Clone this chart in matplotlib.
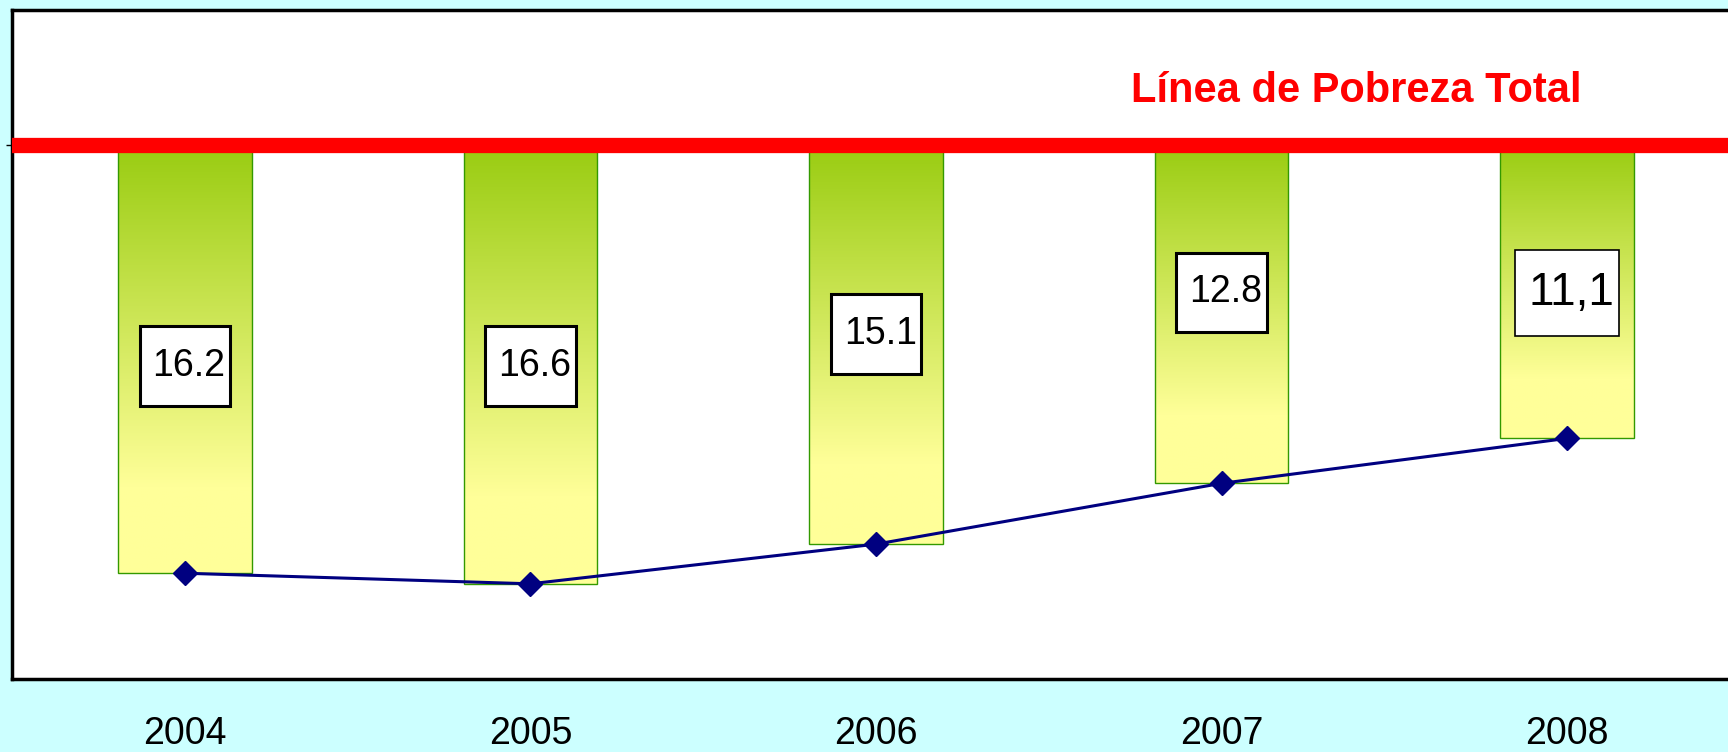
import numpy as np
import matplotlib.pyplot as plt
from matplotlib.patches import Rectangle

plt.rcParams['font.family'] = ['Liberation Sans', 'DejaVu Sans']

# data
years = ['2004', '2005', '2006', '2007', '2008']
pobreza = [16.2, 16.6, 15.1, 12.8, 11.1]
etiquetas = ['16.2', '16.6', '15.1', '12.8', '11,1']

# layout of the value boxes (data units below the poverty line)
label_y = [8.36, 8.36, 7.15, 5.58, 5.61]

bg = '#CCFFFF'
green_top = np.array([153, 204, 17]) / 255
yellow_bot = np.array([255, 255, 153]) / 255

fig = plt.figure(figsize=(17.28, 7.52), dpi=100, facecolor=bg)
ax = fig.add_axes([12 / 1728, 73 / 752, 1728 / 1728, 669 / 752])
ax.set_facecolor('white')

x = np.arange(len(years))
w = 0.387

# gradient for the bars
t = np.linspace(0, 1, 256)
f = np.clip(t / 0.8, 0, 1)[:, None]
grad = green_top + (yellow_bot - green_top) * f
grad = grad[:, None, :]

for xi, v in zip(x, pobreza):
    ax.imshow(grad, extent=(xi - w / 2, xi + w / 2, v, 0), origin='upper',
              aspect='auto', zorder=2, interpolation='bilinear')
    ax.add_patch(Rectangle((xi - w / 2, 0), w, v, fill=False,
                           edgecolor='#339900', lw=1, zorder=3))

# poverty line
ax.axhline(0, xmin=0.004, color='red', lw=11, zorder=4)
ax.text(3.39, -2.05, 'Línea de Pobreza Total', color='red', fontsize=30,
        fontweight='bold', ha='center', va='center', zorder=5)

# line with diamonds
ax.plot(x, pobreza, color='#000080', lw=2.2, marker='D', markersize=12,
        zorder=6)

# value boxes
for i, (xi, yl, lab) in enumerate(zip(x, label_y, etiquetas)):
    if i == len(x) - 1:
        bw, bh, lw, fs = 0.30, 3.25, 1.2, 33
    else:
        bw, bh, lw, fs = 0.262, 3.0, 2.2, 27
    ax.add_patch(Rectangle((xi - bw / 2, yl - bh / 2), bw, bh,
                           facecolor='white', edgecolor='black', lw=lw,
                           zorder=7))
    ax.text(xi + 0.012, yl, lab, fontsize=fs, ha='center', va='center',
            zorder=8)

# year labels under the plot area
for xi, yr in zip(x, years):
    ax.text(xi, -0.082, yr, transform=ax.get_xaxis_transform(), fontsize=27,
            ha='center', va='center', clip_on=False)

ax.set_xlim(-0.5, 4.5)
ax.set_ylim(20.2, -5.1)
ax.set_xticks([])
ax.set_yticks([0])
ax.set_yticklabels([])
ax.tick_params(axis='y', length=4, width=1)
for s in ax.spines.values():
    s.set_linewidth(2.5)
    s.set_color('black')

fig.savefig('out.png', dpi=100, facecolor=bg)
